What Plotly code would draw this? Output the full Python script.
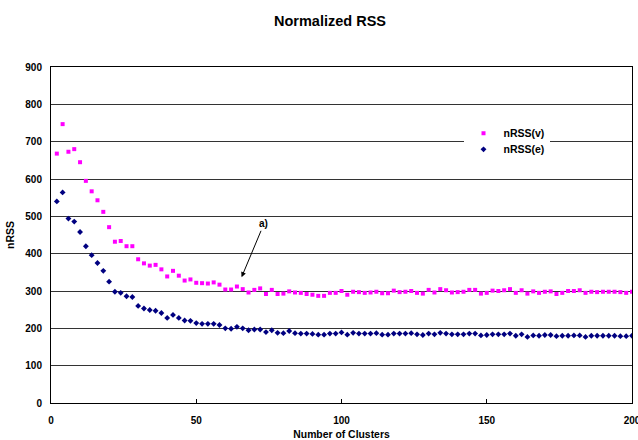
import plotly.graph_objects as go

clusters = list(range(2, 201, 2))

nrss_v = [668, 747, 673, 680, 645, 595, 567, 543, 512, 471,
          432, 434, 420, 420, 385, 374, 368, 370, 358, 339,
          354, 341, 328, 331, 322, 321, 320, 323, 317, 304,
          304, 312, 305, 296, 303, 307, 292, 303, 292, 293,
          299, 296, 295, 292, 290, 287, 287, 295, 295, 300,
          290, 298, 297, 295, 296, 298, 294, 294, 301, 297,
          298, 300, 295, 293, 303, 296, 305, 302, 296, 297,
          298, 303, 303, 293, 295, 301, 300, 302, 305, 295,
          302, 293, 299, 295, 298, 299, 292, 295, 300, 300,
          302, 295, 298, 297, 298, 298, 298, 297, 295, 298]

nrss_e = [540, 564, 494, 486, 458, 420, 396, 375, 354, 325,
          298, 295, 286, 284, 260, 253, 249, 247, 241, 228,
          236, 228, 221, 220, 214, 212, 212, 212, 209, 200,
          199, 204, 200, 195, 197, 197, 190, 195, 188, 187,
          193, 187, 186, 186, 185, 183, 183, 186, 186, 189,
          183, 188, 186, 186, 186, 187, 183, 183, 186, 186,
          186, 187, 184, 182, 186, 184, 188, 186, 184, 184,
          184, 186, 186, 181, 182, 184, 184, 184, 186, 180,
          184, 177, 181, 180, 182, 182, 179, 180, 180, 181,
          181, 177, 180, 180, 180, 180, 180, 179, 179, 180]

x_ticks = [0, 50, 100, 150, 200]
y_ticks = [0, 100, 200, 300, 400, 500, 600, 700, 800, 900]

FONT = "Arial, Liberation Sans, sans-serif"

fig = go.Figure()
fig.add_trace(go.Scatter(x=clusters, y=nrss_v, mode="markers", name="<b>nRSS(v)</b>",
                         legend="legend",
                         marker=dict(symbol="square", size=4, color="#FF00FF")))
fig.add_trace(go.Scatter(x=clusters, y=nrss_e, mode="markers", name="<b>nRSS(e)</b>",
                         legend="legend2",
                         marker=dict(symbol="diamond", size=4.5, color="#000080")))

fig.add_annotation(x=65.6, y=337, ax=73.3, ay=480, axref="x", ayref="y",
                   text="<b>a)</b>", showarrow=True, arrowhead=2, arrowsize=1,
                   arrowwidth=1, arrowcolor="black", standoff=0,
                   font=dict(family=FONT, size=10, color="black"))

leg_common = dict(xanchor="left", yanchor="middle", borderwidth=0,
                  font=dict(size=10.5, color="black"), itemsizing="trace",
                  itemwidth=30, tracegroupgap=0)

fig.update_layout(
    width=638, height=440,
    margin=dict(l=51, r=6, t=67, b=37, autoexpand=False),
    paper_bgcolor="white", plot_bgcolor="white",
    title=dict(text="<b>Normalized RSS</b>", x=330 / 638, xanchor="center",
               y=1 - 21 / 440, yanchor="middle",
               font=dict(family=FONT, size=14.5, color="black")),
    font=dict(family=FONT, size=10, color="black"),
    showlegend=True,
    legend=dict(x=0.71, y=0.803, bgcolor="white", **leg_common),
    legend2=dict(x=0.71, y=0.755, bgcolor="rgba(255,255,255,0)", **leg_common),
)
fig.update_xaxes(range=[0, 200], tickvals=x_ticks, ticktext=[f"<b>{v}</b>" for v in x_ticks],
                 showgrid=False, zeroline=False, showline=True, linecolor="black", linewidth=1,
                 mirror=True, ticks="inside", ticklen=4, tickcolor="black",
                 ticklabelstandoff=8, ticklabeloverflow="allow", automargin=False,
                 title=dict(text="<b>Number of Clusters</b>", font=dict(size=10.4), standoff=5))
fig.update_yaxes(range=[0, 900], tickvals=y_ticks, ticktext=[f"<b>{v}</b>" for v in y_ticks],
                 showgrid=True, gridcolor="#333333", gridwidth=1, zeroline=False,
                 showline=True, linecolor="black", linewidth=1, mirror=True, ticks="",
                 ticklabelstandoff=6, automargin=False,
                 title=dict(text="<b>nRSS</b>", font=dict(size=10.5), standoff=8))

fig.write_html("out.html", config={"displayModeBar": False},
               post_script="document.body.style.margin='0';document.body.style.overflow='hidden';")
